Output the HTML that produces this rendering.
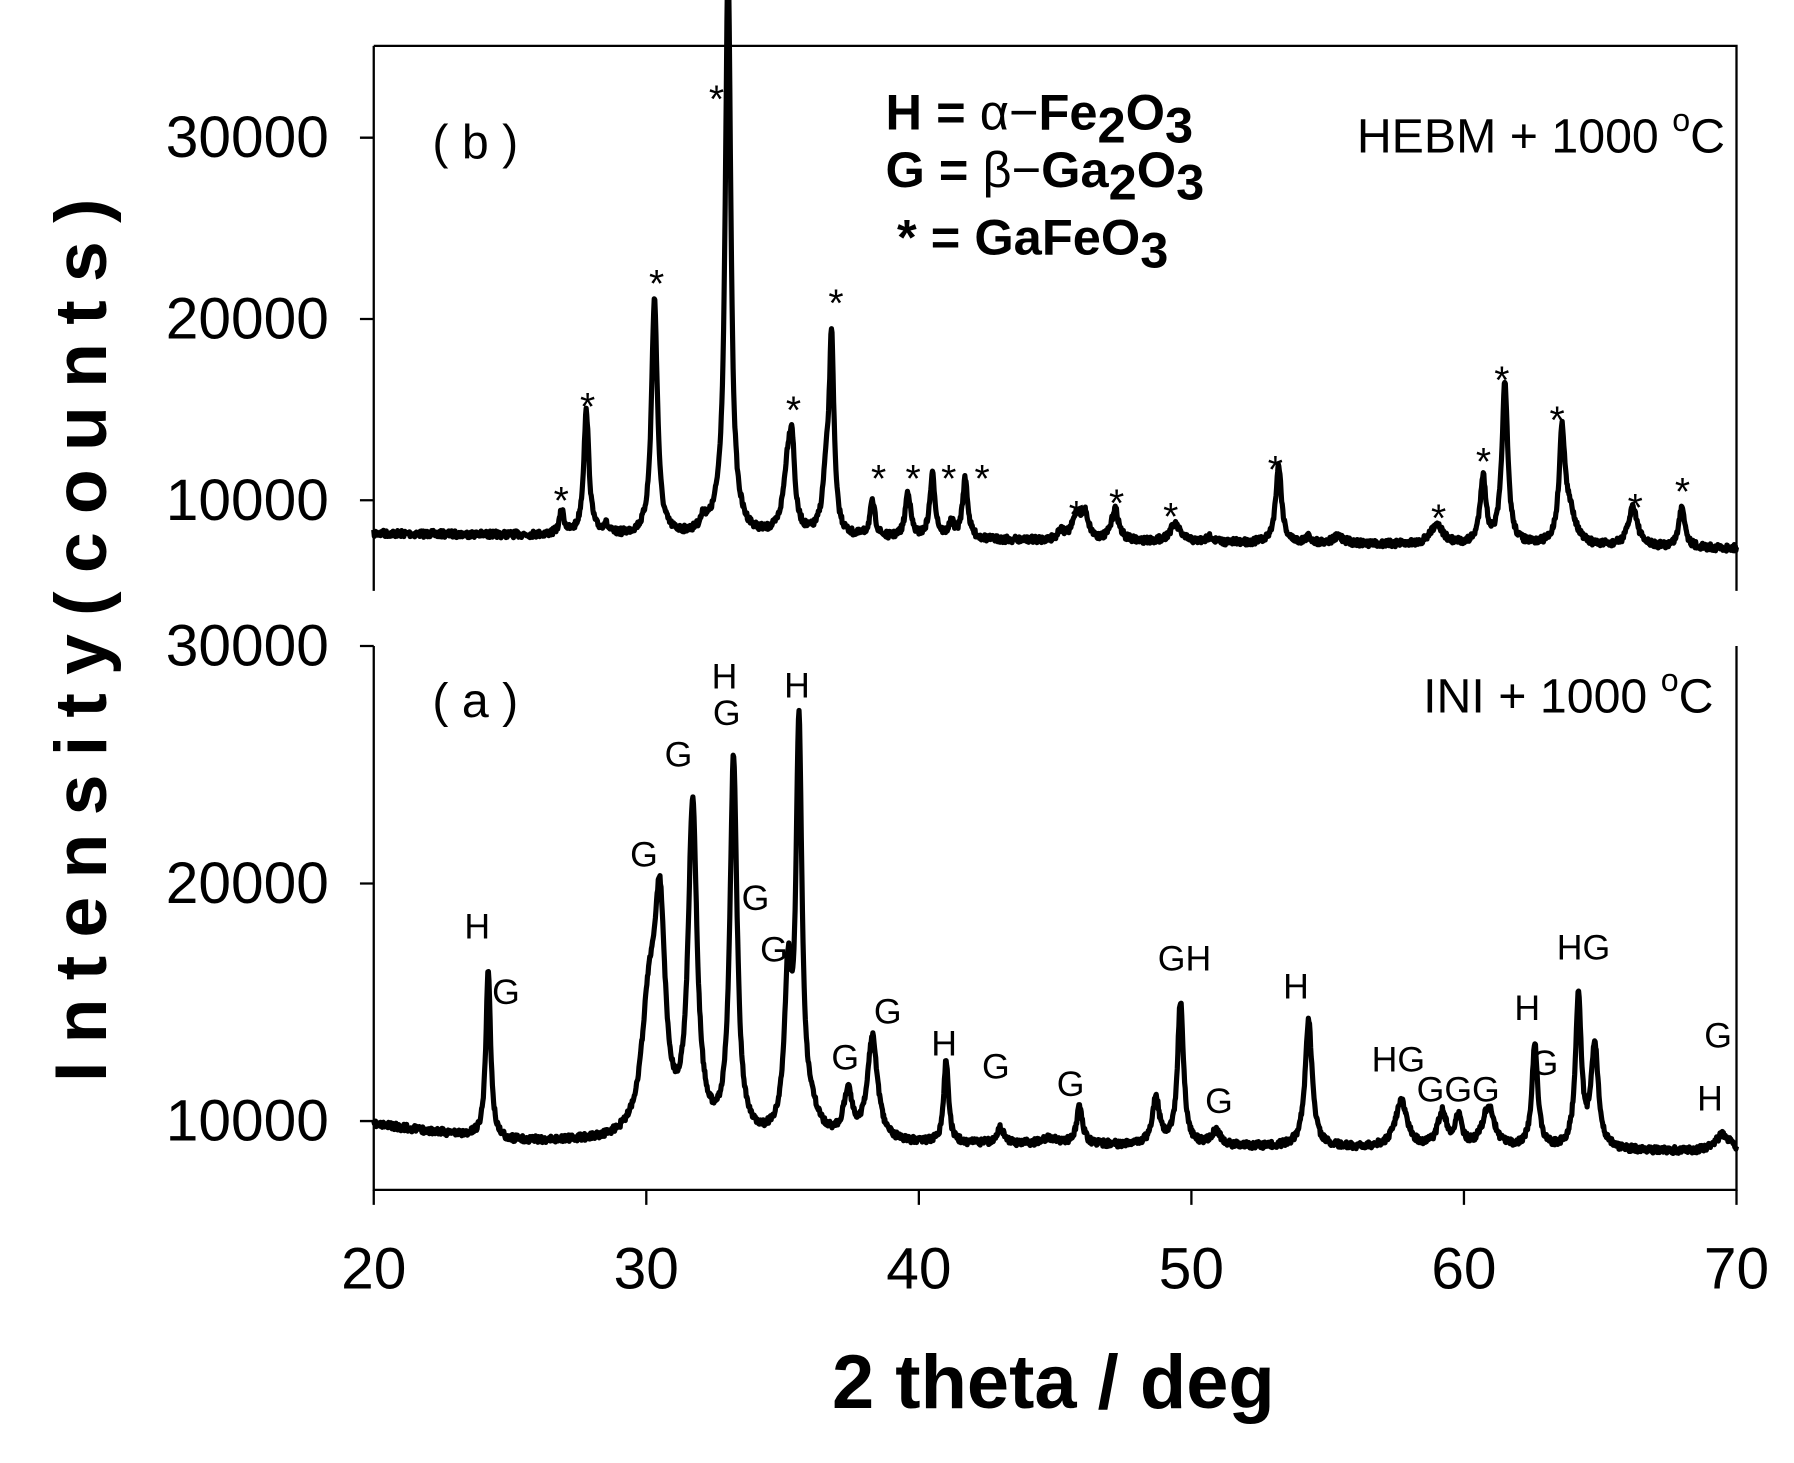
<!DOCTYPE html>
<html><head><meta charset="utf-8"><style>
html,body{margin:0;padding:0;background:#fff;}
svg{display:block;}
text{font-family:"Liberation Sans",Arial,sans-serif;fill:#000;}
</style></head><body>
<svg id="s" width="1794" height="1463" viewBox="0 0 1560 1275" preserveAspectRatio="none" xmlns="http://www.w3.org/2000/svg">
<g stroke="#000" stroke-width="2" fill="none">
<path d="M325,40 H1510 V515 M325,40 V515"/>
<path d="M313,120 H325 M313,278 H325 M313,436 H325"/>
<path d="M325,563 V1037 H1510 V563"/>
<path d="M313,563 H325 M313,770 H325 M313,977 H325"/>
<path d="M325,1037 V1050 M562,1037 V1050 M799,1037 V1050 M1036,1037 V1050 M1273,1037 V1050 M1510,1037 V1050"/>
</g>
<g id="curves" fill="none" stroke="#000" stroke-width="4.5" stroke-linejoin="round"></g>
<g font-size="51" text-anchor="end">
<text x="286" y="137">30000</text>
<text x="286" y="295">20000</text>
<text x="286" y="453">10000</text>
<text x="286" y="580">30000</text>
<text x="286" y="787">20000</text>
<text x="286" y="994">10000</text>
</g>
<g font-size="51" text-anchor="middle">
<text x="325" y="1123">20</text>
<text x="562" y="1123">30</text>
<text x="799" y="1123">40</text>
<text x="1036" y="1123">50</text>
<text x="1273" y="1123">60</text>
<text x="1510" y="1123">70</text>
</g>
<text x="916" y="1227" font-size="66" font-weight="bold" text-anchor="middle">2 theta  / deg</text>
<text transform="translate(92,558) rotate(-90)" font-size="64" font-weight="bold" text-anchor="middle" textLength="770" lengthAdjust="spacing">I n t e n s i t y   ( c o u n t s )</text>
<g font-size="42">
<text x="376" y="138">( b )</text>
<text x="376" y="625">( a )</text>
<text x="1500" y="133" text-anchor="end">HEBM + 1000 <tspan font-size="28" dy="-19">o</tspan><tspan dy="19">C</tspan></text>
<text x="1490" y="621" text-anchor="end">INI + 1000 <tspan font-size="28" dy="-19">o</tspan><tspan dy="19">C</tspan></text>
</g>
<g font-size="44" font-weight="bold">
<text x="770" y="113">H = <tspan font-weight="normal">α−</tspan>Fe<tspan dy="11">2</tspan><tspan dy="-11">O</tspan><tspan dy="11">3</tspan></text>
<text x="770" y="163">G = <tspan font-weight="normal">β−</tspan>Ga<tspan dy="11">2</tspan><tspan dy="-11">O</tspan><tspan dy="11">3</tspan></text>
<text x="780" y="222">* =  GaFeO<tspan dy="11">3</tspan></text>
</g>
<g id="stars" font-size="34" text-anchor="middle"></g>
<g id="lbls" font-size="31" text-anchor="middle"></g>
</svg>
<script>
var NS="http://www.w3.org/2000/svg";
function X(d){return 325+(d-20)*23.7;}
function rnd(seed){var s=seed;return function(){s=(s*16807)%2147483647;return s/2147483647;};}
function curve(base,peaks,seed){
 var r=rnd(seed),d="";
 for(var i=0;i<=2400;i++){
  var t=20+i*50/2400,y=base(t);
  for(var k=0;k<peaks.length;k++){var p=peaks[k],w=p[2]*1.3,u=(t-p[0])/w;y-=p[1]/(1+u*u);}
  y+= (r()-0.5)*6;
  d+=(i?"L":"M")+X(t).toFixed(1)+","+y.toFixed(1);
 }
 var e=document.createElementNS(NS,"path");e.setAttribute("d",d);document.getElementById("curves").appendChild(e);
}
var topB=function(t){return 465+(t-20)*0.26;};
curve(topB,[[26.9,20,0.08],[27.8,108,0.09],[28.5,8,0.08],[30.3,205,0.1],[32.1,10,0.1],[33.0,480,0.09],[32.9,20,0.3],
[35.2,62,0.15],[35.35,55,0.08],[36.6,45,0.12],[36.8,165,0.08],[38.3,30,0.09],[39.6,40,0.09],[40.5,55,0.09],[41.2,12,0.1],[41.7,52,0.09],
[45.2,8,0.1],[45.8,22,0.15],[46.1,20,0.12],[47.2,28,0.12],[49.4,15,0.18],[50.7,5,0.1],[53.2,68,0.1],[54.3,5,0.1],[55.4,6,0.2],
[59.0,18,0.2],[60.7,58,0.1],[61.5,140,0.1],[63.6,95,0.1],[63.9,25,0.2],[66.2,35,0.15],[68.0,36,0.1]],7);
var botB=function(t){
 if(t<25)return 980+(t-20)*3;
 if(t<50)return 995+(t-25)*0.15;
 return 999+(t-50)*0.25;};
curve(botB,[[24.2,148,0.08],[30.1,105,0.25],[30.5,180,0.18],[31.7,285,0.15],[33.2,330,0.12],[35.2,130,0.12],[35.6,345,0.1],[36.0,20,0.3],
[37.4,40,0.15],[38.3,90,0.17],[41.0,72,0.08],[43.0,14,0.12],[44.8,5,0.3],[45.9,33,0.1],[48.7,40,0.12],[49.6,125,0.1],[50.9,12,0.15],
[54.3,110,0.12],[57.7,40,0.2],[59.2,30,0.15],[59.8,25,0.12],[60.9,36,0.2],[62.6,90,0.1],[64.2,130,0.1],[64.8,90,0.12],[69.5,15,0.25]],11);
var st=[[488,432],[511,350],[571,243],[623,82],[690,353],[727,260],[764,413],[794,413],[825,413],[854,413],[936,444],[971,434],[1018,446],[1109,405],[1251,447],[1290,398],[1306,327],[1354,362],[1422,438],[1463,424]];
st.forEach(function(p){var e=document.createElementNS(NS,"text");e.setAttribute("x",p[0]);e.setAttribute("y",p[1]+16);e.textContent="*";document.getElementById("stars").appendChild(e);});
var lb=[["H",415,818],["G",440,875],["G",560,755],["G",590,668],["H",630,600],["G",632,632],["H",693,608],["G",657,793],["G",673,838],["G",735,932],["G",772,892],["H",821,920],["G",866,940],["G",931,955],["GH",1030,846],["G",1060,970],["H",1127,870],["HG",1216,934],["GGG",1268,960],["H",1328,889],["G",1343,937],["HG",1377,836],["G",1494,913],["H",1487,968]];
lb.forEach(function(p){var e=document.createElementNS(NS,"text");e.setAttribute("x",p[1]);e.setAttribute("y",p[2]);e.textContent=p[0];document.getElementById("lbls").appendChild(e);});
</script>
</body></html>
